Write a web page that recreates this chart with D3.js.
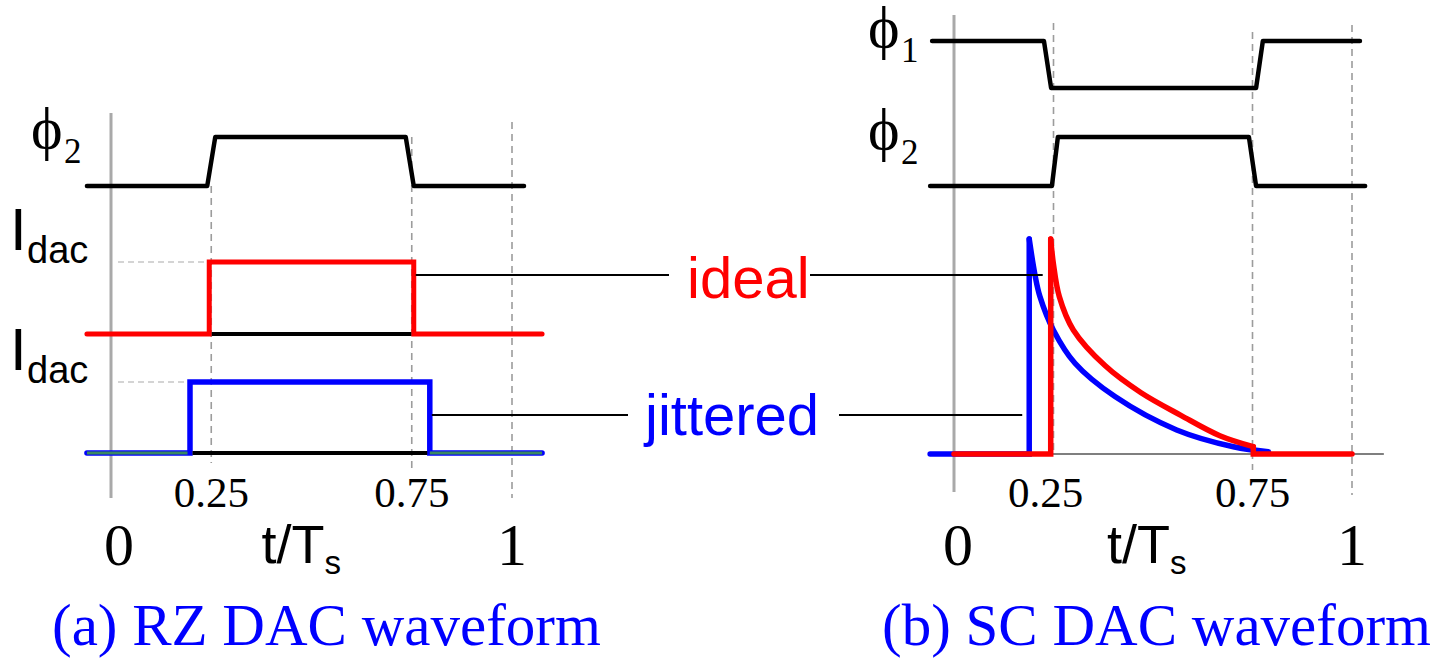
<!DOCTYPE html>
<html>
<head>
<meta charset="utf-8">
<script src="https://cdn.jsdelivr.net/npm/d3@7"></script>
<style>
  html, body { margin: 0; padding: 0; background: #fff; }
  svg { display: block; }
</style>
</head>
<body>
<div id="chart"></div>
<script>
// time axis, in units of t/Ts
const gridTicks = [0, 0.25, 0.75, 1];
const smallTickLabels = ['0.25', '0.75'];
const bigTickLabels = ['0', '1'];
const captions = ['(a) RZ DAC waveform', '(b) SC DAC waveform'];

// (a) RZ DAC: [t, level]
const rzPhi2 = [[-0.06, 0], [0.24, 0], [0.26, 1], [0.735, 1], [0.755, 0], [1.03, 0]];
const rzIdeal = [[-0.06, 0], [0.245, 0], [0.245, 1], [0.755, 1], [0.755, 0], [1.075, 0]];
const rzJitter = [[-0.06, 0], [0.197, 0], [0.197, 1], [0.795, 1], [0.795, 0], [1.075, 0]];

// (b) SC DAC
const scPhi1 = [[-0.055, 1], [0.226, 1], [0.244, 0], [0.759, 0], [0.776, 1], [1.02, 1]];
const scPhi2 = [[-0.06, 0], [0.246, 0], [0.261, 1], [0.741, 1], [0.759, 0], [1.033, 0]];
const scIdealEdge = [[0, 0], [0.243, 0], [0.243, 1]];
const scIdealDecay = [[0.243, 1], [0.2496, 0.887], [0.2646, 0.732], [0.2998, 0.577], [0.38, 0.41],
  [0.47, 0.285], [0.57, 0.18], [0.668, 0.085], [0.752, 0.034]];
const scIdealTail = [[0.752, 0.034], [0.752, 0], [1.0, 0]];
const scJitterEdge = [[-0.06, 0], [0.189, 0], [0.189, 1]];
const scJitterDecay = [[0.189, 1], [0.2035, 0.833], [0.216, 0.732], [0.2496, 0.577], [0.304, 0.422],
  [0.4045, 0.267], [0.5595, 0.112], [0.702, 0.034], [0.79, 0.011]];

const W = 1442, H = 662;
const RED = '#ff0000', BLUE = '#0000ff';
const SERIF = '"Liberation Serif", "Times New Roman", serif';
const SANS = '"Liberation Sans", Arial, sans-serif';

const svg = d3.select('#chart').append('svg')
  .attr('width', W).attr('height', H)
  .style('background', '#fff');

const xL = d3.scaleLinear().domain([0, 1]).range([111, 512]);
const xR = d3.scaleLinear().domain([0, 1]).range([954, 1352]);

// one y scale per waveform row
const yL = {
  phi2: d3.scaleLinear().domain([0, 1]).range([186, 137]),
  ideal: d3.scaleLinear().domain([0, 1]).range([334, 262]),
  jitter: d3.scaleLinear().domain([0, 1]).range([453, 382])
};
const yR = {
  phi1: d3.scaleLinear().domain([0, 1]).range([88, 41]),
  phi2: d3.scaleLinear().domain([0, 1]).range([186, 137]),
  dac: d3.scaleLinear().domain([0, 1]).range([454, 239])
};

function wave(x, y, curve) {
  return d3.line().x(d => x(d[0])).y(d => y(d[1])).curve(curve || d3.curveLinear);
}
const smooth = d3.curveCatmullRom.alpha(0.5);

// ---- grid lines
const gridL = [[113, 498], [186, 463], [137, 472], [122, 498]];
const gridR = [[15, 492], [23, 454], [32, 470], [25, 495]];
function drawGrid(x, spans) {
  gridTicks.forEach((t, i) => {
    svg.append('line')
      .attr('x1', x(t)).attr('x2', x(t))
      .attr('y1', spans[i][0]).attr('y2', spans[i][1])
      .attr('stroke', t === 0 ? '#a9a9a9' : '#9c9c9c')
      .attr('stroke-width', t === 0 ? 3 : 1.6)
      .attr('stroke-dasharray', t === 0 ? null : '7,5');
  });
}
drawGrid(xL, gridL);
drawGrid(xR, gridR);

// ---- (a) RZ DAC
svg.append('path').attr('d', wave(xL, yL.phi2)(rzPhi2))
  .attr('fill', 'none').attr('stroke', '#000').attr('stroke-width', 4.5)
  .attr('stroke-linejoin', 'round').attr('stroke-linecap', 'round');

// dashed reference to the pulse height
[['ideal', rzIdeal], ['jitter', rzJitter]].forEach(([k, d]) => {
  svg.append('line')
    .attr('x1', 118).attr('x2', xL(d[2][0]))
    .attr('y1', yL[k](1)).attr('y2', yL[k](1))
    .attr('stroke', '#aaa').attr('stroke-width', 1.2).attr('stroke-dasharray', '6,4');
});

svg.append('path').attr('d', wave(xL, yL.ideal)(rzIdeal))
  .attr('fill', 'none').attr('stroke', RED).attr('stroke-width', 5).attr('stroke-linecap', 'round');
svg.append('line')
  .attr('x1', xL(rzIdeal[2][0]) + 2.5).attr('x2', xL(rzIdeal[4][0]) - 2.5)
  .attr('y1', yL.ideal(0)).attr('y2', yL.ideal(0))
  .attr('stroke', '#000').attr('stroke-width', 4);

svg.append('path').attr('d', wave(xL, yL.jitter)(rzJitter))
  .attr('fill', 'none').attr('stroke', BLUE).attr('stroke-width', 5.5).attr('stroke-linecap', 'round');
[[rzJitter[0][0], rzJitter[1][0]], [rzJitter[4][0], rzJitter[5][0]]].forEach(([a, b]) => {
  svg.append('line')
    .attr('x1', xL(a)).attr('x2', xL(b) - (b > 1 ? 0 : 2.5))
    .attr('y1', yL.jitter(0)).attr('y2', yL.jitter(0))
    .attr('stroke', '#3a8a60').attr('stroke-width', 2.8);
});
svg.append('line')
  .attr('x1', xL(rzJitter[2][0]) + 2.5).attr('x2', xL(rzJitter[4][0]) - 2.5)
  .attr('y1', yL.jitter(0)).attr('y2', yL.jitter(0))
  .attr('stroke', '#000').attr('stroke-width', 4);

// ---- (b) SC DAC
[[scPhi1, yR.phi1], [scPhi2, yR.phi2]].forEach(([d, y]) => {
  svg.append('path').attr('d', wave(xR, y)(d))
    .attr('fill', 'none').attr('stroke', '#000').attr('stroke-width', 4.5)
    .attr('stroke-linejoin', 'round').attr('stroke-linecap', 'round');
});

svg.append('line')
  .attr('x1', xR(-0.06)).attr('x2', xR(1.08))
  .attr('y1', yR.dac(0)).attr('y2', yR.dac(0))
  .attr('stroke', '#555').attr('stroke-width', 1.5);

svg.append('path').attr('d', wave(xR, yR.dac)(scJitterEdge))
  .attr('fill', 'none').attr('stroke', BLUE).attr('stroke-width', 5.5).attr('stroke-linecap', 'round');
svg.append('path').attr('d', wave(xR, yR.dac, smooth)(scJitterDecay))
  .attr('fill', 'none').attr('stroke', BLUE).attr('stroke-width', 5.5).attr('stroke-linecap', 'round');

svg.append('path').attr('d', wave(xR, yR.dac)(scIdealEdge))
  .attr('fill', 'none').attr('stroke', RED).attr('stroke-width', 5.5).attr('stroke-linecap', 'round');
svg.append('path').attr('d', wave(xR, yR.dac, smooth)(scIdealDecay))
  .attr('fill', 'none').attr('stroke', RED).attr('stroke-width', 5.5).attr('stroke-linecap', 'round');
svg.append('path').attr('d', wave(xR, yR.dac)(scIdealTail))
  .attr('fill', 'none').attr('stroke', RED).attr('stroke-width', 5.5).attr('stroke-linecap', 'round');

// ---- "ideal" / "jittered" call-outs
const callouts = [
  { text: 'ideal', color: RED, y: 275, x: 687, base: 298, segs: [[xL(0.755) + 2, 669], [810, xR(0.243) - 8]] },
  { text: 'jittered', color: BLUE, y: 415, x: 645, base: 435, segs: [[xL(0.795) + 2, 628], [839, xR(0.189) - 7]] }
];
callouts.forEach(c => {
  c.segs.forEach(([a, b]) => {
    svg.append('line').attr('x1', a).attr('x2', b).attr('y1', c.y).attr('y2', c.y)
      .attr('stroke', '#000').attr('stroke-width', 2);
  });
  svg.append('text').attr('x', c.x).attr('y', c.base)
    .attr('font-family', SANS).attr('font-size', 58).attr('fill', c.color)
    .text(c.text);
});

// ---- row labels
function phiLabel(x, base, sub) {
  svg.append('text').attr('x', x).attr('y', base)
    .attr('font-family', SERIF).attr('font-size', 60).text('\u03D5');
  svg.append('text').attr('x', x + 33).attr('y', base + 15)
    .attr('font-family', SERIF).attr('font-size', 35).text(sub);
}
phiLabel(31, 148, '2');
phiLabel(868, 47, '1');
phiLabel(868, 149, '2');

function idacLabel(base) {
  svg.append('text').attr('x', 10).attr('y', base)
    .attr('font-family', SANS).attr('font-size', 60).text('I');
  svg.append('text').attr('x', 27).attr('y', base + 13)
    .attr('font-family', SANS).attr('font-size', 38).text('dac');
}
idacLabel(250);
idacLabel(370);

// ---- time axis labels
const nudge = { L0: 8, R0: 4, 'R0.25': -8 };
[[xL, 'L'], [xR, 'R']].forEach(([x, side]) => {
  smallTickLabels.forEach(s => {
    svg.append('text').attr('x', x(+s) + (nudge[side + s] || 0)).attr('y', 507)
      .attr('text-anchor', 'middle').attr('font-family', SERIF).attr('font-size', 43).text(s);
  });
  bigTickLabels.forEach(s => {
    svg.append('text').attr('x', x(+s) + (nudge[side + s] || 0)).attr('y', 565)
      .attr('text-anchor', 'middle').attr('font-family', SERIF).attr('font-size', 60).text(s);
  });
  const lbl = svg.append('text').attr('x', x(0.5) - 50 + (side === 'R' ? 4 : 0)).attr('y', 563)
    .attr('font-family', SANS).attr('font-size', 54);
  lbl.append('tspan').text('t/T');
  lbl.append('tspan').attr('font-size', 33).attr('dy', 11).text('s');
});

// ---- captions
[[52, captions[0]], [882, captions[1]]].forEach(([x, s]) => {
  svg.append('text').attr('x', x).attr('y', 645)
    .attr('font-family', SERIF).attr('font-size', 59).attr('fill', BLUE)
    .text(s);
});
</script>
</body>
</html>
